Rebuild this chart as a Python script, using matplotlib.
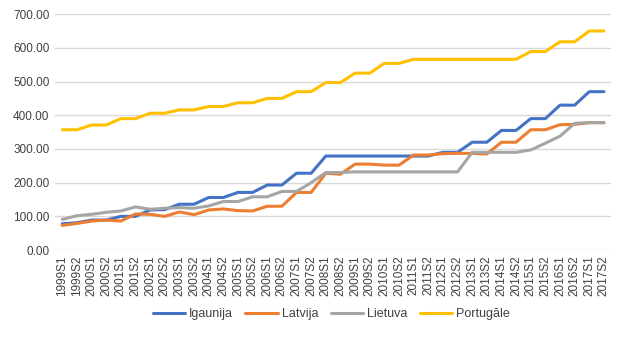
import matplotlib.pyplot as plt
import numpy as np

plt.rcParams['font.family'] = ['Liberation Sans', 'DejaVu Sans']

# periods: 1999S1 .. 2017S2
periods = [f'{y}S{h}' for y in range(1999, 2018) for h in (1, 2)]

igaunija = [78, 81, 89, 89, 100, 100, 119, 120, 136, 136,
            156, 156, 171, 171, 193, 193, 228, 228, 279, 279,
            279, 279, 279, 279, 279, 279, 290, 290, 320, 320,
            355, 355, 390, 390, 430, 430, 470, 470]
latvija = [73, 79, 86, 89, 86, 107, 106, 100, 113, 105,
           119, 122, 117, 116, 130, 130, 171, 171, 228, 225,
           255, 255, 252, 252, 282, 282, 286, 287, 287, 285,
           320, 320, 357, 357, 372, 373, 378, 378]
lietuva = [91, 102, 106, 112, 116, 128, 121, 124, 126, 124,
           131, 144, 144, 158, 158, 174, 174, 200, 230, 230,
           232, 232, 232, 232, 232, 232, 232, 232, 290, 290,
           290, 290, 297, 317, 338, 376, 378, 378]
portugale = [357, 357, 371, 371, 390, 390, 406, 406, 416, 416,
             426, 426, 437, 437, 450, 450, 470, 470, 497, 497,
             525, 525, 554, 554, 566, 566, 566, 566, 566, 566,
             566, 566, 589, 589, 618, 618, 650, 650]

series = [('Igaunija', igaunija, '#4472C4'),
          ('Latvija', latvija, '#ED7D31'),
          ('Lietuva', lietuva, '#A5A5A5'),
          ('Portugāle', portugale, '#FFC000')]

fig = plt.figure(figsize=(6.25, 3.37), dpi=100)
ax = fig.add_axes([0.088, 0.258, 0.89, 0.70])

x = np.arange(len(periods))
for name, vals, col in series:
    ax.plot(x, vals, color=col, linewidth=2.2, label=name, solid_capstyle='round')

ax.set_xlim(-0.5, len(periods) - 0.5)
ax.set_ylim(0, 700)
ax.set_yticks(np.arange(0, 701, 100))
ax.set_yticklabels([f'{v:.2f}' for v in range(0, 701, 100)], fontsize=8.5, color='#404040')
ax.set_xticks(x)
ax.set_xticklabels(periods, rotation=90, fontsize=8.5, color='#404040')
ax.tick_params(length=0, pad=4)
ax.grid(axis='y', color='#d9d9d9', linewidth=1)
ax.set_axisbelow(True)
for s in ax.spines.values():
    s.set_visible(False)

fig.legend(loc='center', bbox_to_anchor=(0.53, 0.068), ncol=4, frameon=False,
           fontsize=9, handlelength=2.6, handletextpad=0.3, columnspacing=1.0,
           labelcolor='#404040')

fig.savefig('out.png', dpi=100)
